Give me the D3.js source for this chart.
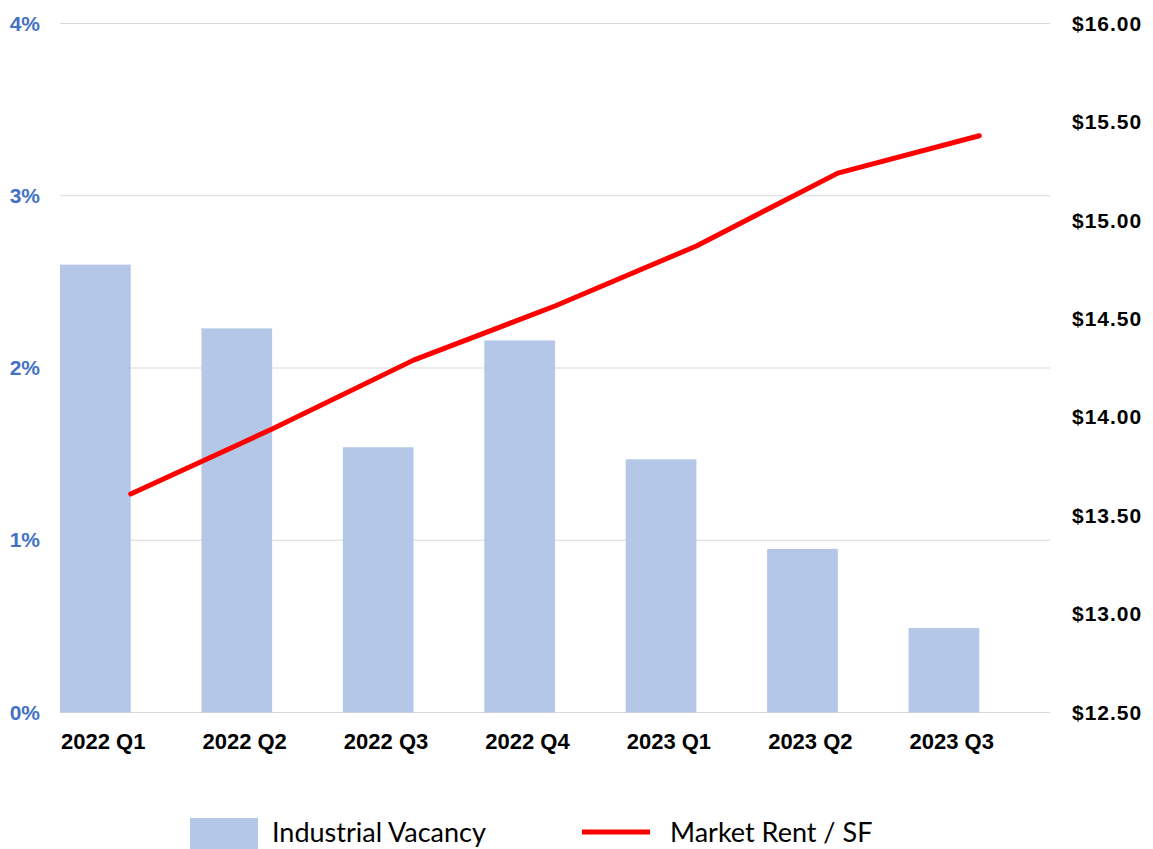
<!DOCTYPE html>
<html>
<head>
<meta charset="utf-8">
<script src="https://cdn.jsdelivr.net/npm/d3@7"></script>
<style>
  body { margin: 0; background: #fff; }
  svg text { font-family: "Liberation Sans", Arial, sans-serif; }
</style>
</head>
<body>
<svg width="1153" height="849"></svg>
<script>
// chart data
var quarters = ["2022 Q1", "2022 Q2", "2022 Q3", "2022 Q4", "2023 Q1", "2023 Q2", "2023 Q3"];
var vacancy = [2.60, 2.23, 1.54, 2.16, 1.47, 0.95, 0.49];      // percent
var marketRent = [13.61, 13.94, 14.29, 14.565, 14.87, 15.24, 15.43]; // $ / SF
var vacancyTicks = [0, 1, 2, 3, 4];
var rentTicks = [12.5, 13, 13.5, 14, 14.5, 15, 15.5, 16];

var svg = d3.select("svg");

// plot area
var plotLeft = 60, plotRight = 1050, plotTop = 23.5, plotBottom = 712.5;

// x: one band per quarter, bar takes the left half (empty second series in the source)
var x = d3.scaleBand()
    .domain(quarters)
    .range([plotLeft, plotRight])
    .paddingInner(0)
    .paddingOuter(0);

var yL = d3.scaleLinear().domain([0, 4]).range([plotBottom, plotTop]);
var yR = d3.scaleLinear().domain([12.5, 16]).range([plotBottom, plotTop]);

// gridlines
svg.append("g")
    .selectAll("line")
    .data(vacancyTicks)
    .join("line")
    .attr("x1", plotLeft)
    .attr("x2", plotRight)
    .attr("y1", function(d) { return yL(d); })
    .attr("y2", function(d) { return yL(d); })
    .attr("stroke", "#d9d9d9")
    .attr("stroke-width", 1.2);

// bars
svg.append("g")
    .selectAll("rect")
    .data(vacancy)
    .join("rect")
    .attr("x", function(d, i) { return x(quarters[i]); })
    .attr("width", x.bandwidth() / 2)
    .attr("y", function(d) { return yL(d); })
    .attr("height", function(d) { return yL(0) - yL(d); })
    .attr("fill", "#b4c7e7");

// rent line, points at band centres
var line = d3.line()
    .x(function(d, i) { return x(quarters[i]) + x.bandwidth() / 2; })
    .y(function(d) { return yR(d); });

svg.append("path")
    .datum(marketRent)
    .attr("d", line)
    .attr("fill", "none")
    .attr("stroke", "#ff0000")
    .attr("stroke-width", 5)
    .attr("stroke-linejoin", "round")
    .attr("stroke-linecap", "round");

// left axis (percent)
var axisL = d3.axisLeft(yL)
    .tickValues(vacancyTicks)
    .tickFormat(function(d) { return d + "%"; })
    .tickSize(0)
    .tickPadding(20);

var gL = svg.append("g")
    .attr("transform", "translate(" + plotLeft + ",0)")
    .call(axisL);
gL.select(".domain").remove();
gL.selectAll("text")
    .attr("fill", "#4472c4")
    .style("font-size", "21px")
    .style("font-weight", "bold");

// right axis (rent)
var axisR = d3.axisRight(yR)
    .tickValues(rentTicks)
    .tickFormat(d3.format("$.2f"))
    .tickSize(0)
    .tickPadding(22);

var gR = svg.append("g")
    .attr("transform", "translate(" + plotRight + ",0)")
    .call(axisR);
gR.select(".domain").remove();
gR.selectAll("text")
    .attr("fill", "#000")
    .style("font-size", "21px")
    .style("font-weight", "bold")
    .style("letter-spacing", "1px");

// x labels, left aligned with each bar
svg.append("g")
    .selectAll("text")
    .data(quarters)
    .join("text")
    .attr("x", function(d) { return x(d) + 1; })
    .attr("y", 749)
    .attr("text-anchor", "start")
    .style("font-size", "22px")
    .style("font-weight", "bold")
    .attr("fill", "#000")
    .text(function(d) { return d; });

// legend
var legend = svg.append("g").attr("class", "legend");

legend.append("rect")
    .attr("x", 190)
    .attr("y", 818)
    .attr("width", 68)
    .attr("height", 31)
    .attr("fill", "#b4c7e7");

legend.append("text")
    .attr("x", 272)
    .attr("y", 842)
    .style("font-family", "Lato, 'Liberation Sans Narrow', sans-serif")
    .style("font-size", "27px")
    .attr("fill", "#000")
    .text("Industrial Vacancy");

legend.append("line")
    .attr("x1", 582)
    .attr("x2", 650)
    .attr("y1", 832)
    .attr("y2", 832)
    .attr("stroke", "#ff0000")
    .attr("stroke-width", 5);

legend.append("text")
    .attr("x", 670)
    .attr("y", 842)
    .style("font-family", "Lato, 'Liberation Sans Narrow', sans-serif")
    .style("font-size", "27px")
    .attr("fill", "#000")
    .text("Market Rent / SF");
</script>
</body>
</html>
